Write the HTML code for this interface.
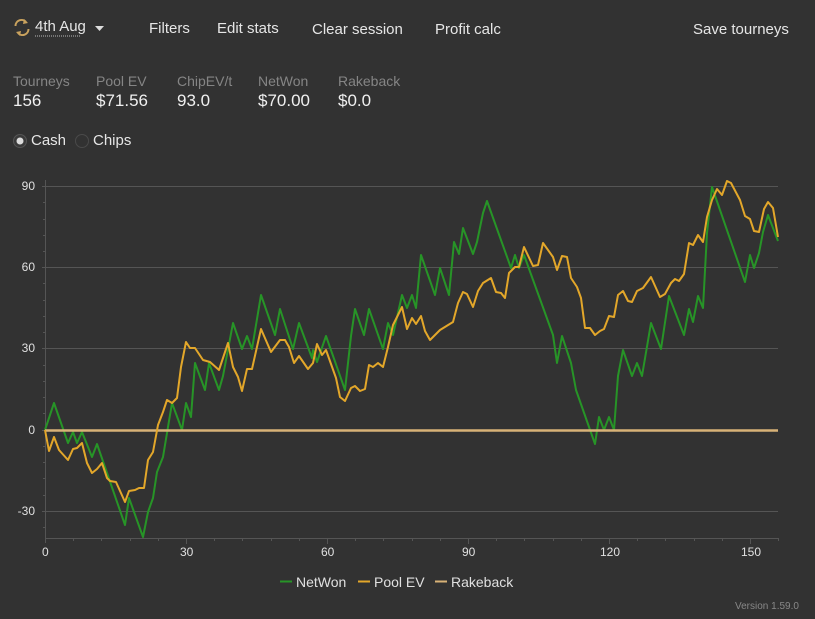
<!DOCTYPE html>
<html><head><meta charset="utf-8"><style>
html,body{margin:0;padding:0;background:#323232;width:815px;height:619px;overflow:hidden;font-family:"Liberation Sans",Arial,sans-serif;}
.t{position:absolute;white-space:nowrap;}
</style></head><body>
<svg width="815" height="619" style="position:absolute;left:0;top:0">
<!-- refresh icon -->
<g fill="none" stroke="#c9a25e" stroke-width="2">
<path d="M15.5 26 A6 6 0 0 1 26 22"/><path d="M28.5 29 A6 6 0 0 1 18 33"/>
</g>
<path d="M24 19 L28 23 L23 24 Z" fill="#c9a25e"/><path d="M20 36 L16 32 L21 31 Z" fill="#c9a25e"/>
<line x1="35" y1="36" x2="81" y2="36" stroke="#bbb" stroke-width="1" stroke-dasharray="1,1"/>
<path d="M95 26 L104 26 L99.5 31 Z" fill="#ddd"/>
<!-- radios -->
<circle cx="20" cy="141" r="6.5" fill="#3a3a3a" stroke="#555" stroke-width="1"/>
<circle cx="20" cy="141" r="3.5" fill="#ddd"/>
<circle cx="82" cy="141" r="6.5" fill="none" stroke="#4a4a4a" stroke-width="1"/>
<!-- grid -->
<g stroke="#555" stroke-width="1">
<line x1="45" y1="186.5" x2="778" y2="186.5"/>
<line x1="45" y1="267.5" x2="778" y2="267.5"/>
<line x1="45" y1="348.5" x2="778" y2="348.5"/>
<line x1="45" y1="511.5" x2="778" y2="511.5"/>
<line x1="45.5" y1="180" x2="45.5" y2="543"/>
<line x1="45" y1="538.5" x2="778" y2="538.5"/>
</g>
<g stroke="#555" stroke-width="1">
<line x1="42" y1="186.5" x2="45" y2="186.5"/><line x1="42" y1="267.5" x2="45" y2="267.5"/><line x1="42" y1="348.5" x2="45" y2="348.5"/><line x1="42" y1="430.5" x2="45" y2="430.5"/><line x1="42" y1="511.5" x2="45" y2="511.5"/>
<line x1="43" y1="202.5" x2="45" y2="202.5"/><line x1="43" y1="219.5" x2="45" y2="219.5"/><line x1="43" y1="235.5" x2="45" y2="235.5"/><line x1="43" y1="251.5" x2="45" y2="251.5"/>
<line x1="43" y1="283.5" x2="45" y2="283.5"/><line x1="43" y1="300.5" x2="45" y2="300.5"/><line x1="43" y1="316.5" x2="45" y2="316.5"/><line x1="43" y1="332.5" x2="45" y2="332.5"/>
<line x1="43" y1="365.5" x2="45" y2="365.5"/><line x1="43" y1="381.5" x2="45" y2="381.5"/><line x1="43" y1="397.5" x2="45" y2="397.5"/><line x1="43" y1="413.5" x2="45" y2="413.5"/>
<line x1="43" y1="446.5" x2="45" y2="446.5"/><line x1="43" y1="462.5" x2="45" y2="462.5"/><line x1="43" y1="478.5" x2="45" y2="478.5"/><line x1="43" y1="495.5" x2="45" y2="495.5"/><line x1="43" y1="527.5" x2="45" y2="527.5"/>
<line x1="186.5" y1="538" x2="186.5" y2="544"/><line x1="327.5" y1="538" x2="327.5" y2="544"/><line x1="468.5" y1="538" x2="468.5" y2="544"/><line x1="609.5" y1="538" x2="609.5" y2="544"/><line x1="750.5" y1="538" x2="750.5" y2="544"/>
<line x1="73.5" y1="538" x2="73.5" y2="541"/><line x1="101.5" y1="538" x2="101.5" y2="541"/><line x1="130.5" y1="538" x2="130.5" y2="541"/><line x1="158.5" y1="538" x2="158.5" y2="541"/>
<line x1="214.5" y1="538" x2="214.5" y2="541"/><line x1="242.5" y1="538" x2="242.5" y2="541"/><line x1="271.5" y1="538" x2="271.5" y2="541"/><line x1="299.5" y1="538" x2="299.5" y2="541"/>
<line x1="355.5" y1="538" x2="355.5" y2="541"/><line x1="383.5" y1="538" x2="383.5" y2="541"/><line x1="412.5" y1="538" x2="412.5" y2="541"/><line x1="440.5" y1="538" x2="440.5" y2="541"/>
<line x1="496.5" y1="538" x2="496.5" y2="541"/><line x1="524.5" y1="538" x2="524.5" y2="541"/><line x1="553.5" y1="538" x2="553.5" y2="541"/><line x1="581.5" y1="538" x2="581.5" y2="541"/>
<line x1="637.5" y1="538" x2="637.5" y2="541"/><line x1="665.5" y1="538" x2="665.5" y2="541"/><line x1="694.5" y1="538" x2="694.5" y2="541"/><line x1="722.5" y1="538" x2="722.5" y2="541"/><line x1="778.5" y1="538" x2="778.5" y2="541"/>
</g>
<!-- series -->
<polyline fill="none" stroke="#279427" stroke-width="2" stroke-linejoin="round" points="45,430 54,403 68,443 73,432 77,443 82,432 92,457 97,444 125,525 129,498 143,537 148,512 153,498 157,472 163,457 172,403 182,430 186,403 191,417 195,363 205,390 209,363 219,390 223,376 233,323 242,349 247,336 252,349 261,295 275,335 280,309 293,349 299,323 312,358 313,350 317,362 326,336 345,390 351,336 355,309 364,335 369,309 383,349 388,323 393,335 402,295 407,308 412,295 416,308 421,255 435,295 440,268 449,295 454,242 459,254 463,228 473,254 477,242 483,213 487,201 511,268 515,255 519,268 524,255 553,335 557,363 562,336 571,363 576,390 595,444 599,417 604,430 609,417 614,430 618,376 623,350 632,376 637,363 642,376 651,323 661,349 669,296 684,335 689,309 693,322 698,296 703,308 707,233 712,187 745,282 750,255 754,268 759,253 763,232 768,215 778,241"/>
<line x1="45" y1="430.5" x2="778" y2="430.5" stroke="#d8b277" stroke-width="2.5"/>
<polyline fill="none" stroke="#e3a72a" stroke-width="2" stroke-linejoin="round" points="45,430 49,451 54,437 59,450 68,460 73,449 77,448 82,443 87,463 92,473 97,469 102,463 107,478 110,481 116,482 125,502 129,491 135,490 139,488 144,488 148,460 153,452 158,425 163,412 167,400 172,403 177,398 181,367 186,342 190,348 195,348 203,360 210,362 219,370 228,343 233,367 238,377 242,391 247,369 252,369 261,329 271,352 280,340 285,340 289,347 294,363 299,356 308,369 313,363 317,344 322,355 326,350 336,378 340,397 345,401 351,388 355,386 360,391 365,389 369,365 373,367 378,363 383,367 388,347 393,325 402,307 407,329 412,318 416,324 421,316 425,331 430,340 440,330 453,322 458,303 463,292 467,294 473,307 478,291 483,283 491,278 496,292 501,293 505,298 509,273 515,267 519,267 524,247 533,266 538,265 543,243 553,257 557,270 562,256 567,257 571,278 577,287 581,298 585,328 590,328 595,335 600,331 604,329 609,316 614,317 618,295 623,291 628,301 632,302 637,291 643,288 651,277 660,297 665,294 671,283 675,279 679,281 684,274 689,243 693,245 698,235 703,242 707,217 712,200 717,189 722,195 727,181 731,183 740,200 745,216 750,219 754,231 759,232 764,209 768,202 773,208 778,237"/>
<!-- legend -->
<line x1="280" y1="581.5" x2="292" y2="581.5" stroke="#279427" stroke-width="2"/>
<line x1="358" y1="581.5" x2="370" y2="581.5" stroke="#e3a72a" stroke-width="2"/>
<line x1="435" y1="581.5" x2="447" y2="581.5" stroke="#d8b277" stroke-width="2"/>
</svg>
<div class="t" style="left:35px;top:18px;font-size:15px;color:#e6e6e6">4th Aug</div>
<div class="t" style="left:149px;top:20px;font-size:15px;color:#e6e6e6">Filters</div>
<div class="t" style="left:217px;top:20px;font-size:15px;color:#e6e6e6">Edit stats</div>
<div class="t" style="left:312px;top:21px;font-size:15px;color:#e6e6e6">Clear session</div>
<div class="t" style="left:435px;top:21px;font-size:15px;color:#e6e6e6">Profit calc</div>
<div class="t" style="left:693px;top:21px;font-size:15px;color:#e6e6e6">Save tourneys</div>

<div class="t" style="left:13px;top:73px;font-size:14px;color:#858585">Tourneys</div>
<div class="t" style="left:96px;top:73px;font-size:14px;color:#858585">Pool EV</div>
<div class="t" style="left:177px;top:73px;font-size:14px;color:#858585">ChipEV/t</div>
<div class="t" style="left:258px;top:73px;font-size:14px;color:#858585">NetWon</div>
<div class="t" style="left:338px;top:73px;font-size:14px;color:#858585">Rakeback</div>
<div class="t" style="left:13px;top:91px;font-size:17px;color:#f0f0f0">156</div>
<div class="t" style="left:96px;top:91px;font-size:17px;color:#f0f0f0">$71.56</div>
<div class="t" style="left:177px;top:91px;font-size:17px;color:#f0f0f0">93.0</div>
<div class="t" style="left:258px;top:91px;font-size:17px;color:#f0f0f0">$70.00</div>
<div class="t" style="left:338px;top:91px;font-size:17px;color:#f0f0f0">$0.0</div>

<div class="t" style="left:31px;top:132px;font-size:15px;color:#e6e6e6">Cash</div>
<div class="t" style="left:93px;top:132px;font-size:15px;color:#e6e6e6">Chips</div>

<div class="t" style="right:780px;top:179px;font-size:12px;color:#e0e0e0">90</div>
<div class="t" style="right:780px;top:260px;font-size:12px;color:#e0e0e0">60</div>
<div class="t" style="right:780px;top:341px;font-size:12px;color:#e0e0e0">30</div>
<div class="t" style="right:780px;top:423px;font-size:12px;color:#e0e0e0">0</div>
<div class="t" style="right:780px;top:504px;font-size:12px;color:#e0e0e0">-30</div>
<div class="t" style="left:42px;top:545px;font-size:12px;color:#e0e0e0">0</div>
<div class="t" style="left:180px;top:545px;font-size:12px;color:#e0e0e0">30</div>
<div class="t" style="left:321px;top:545px;font-size:12px;color:#e0e0e0">60</div>
<div class="t" style="left:462px;top:545px;font-size:12px;color:#e0e0e0">90</div>
<div class="t" style="left:600px;top:545px;font-size:12px;color:#e0e0e0">120</div>
<div class="t" style="left:741px;top:545px;font-size:12px;color:#e0e0e0">150</div>

<div class="t" style="left:296px;top:574px;font-size:14px;color:#e0e0e0">NetWon</div>
<div class="t" style="left:374px;top:574px;font-size:14px;color:#e0e0e0">Pool EV</div>
<div class="t" style="left:451px;top:574px;font-size:14px;color:#e0e0e0">Rakeback</div>
<div class="t" style="left:735px;top:601px;font-size:10px;color:#888">Version 1.59.0</div>
</body></html>
